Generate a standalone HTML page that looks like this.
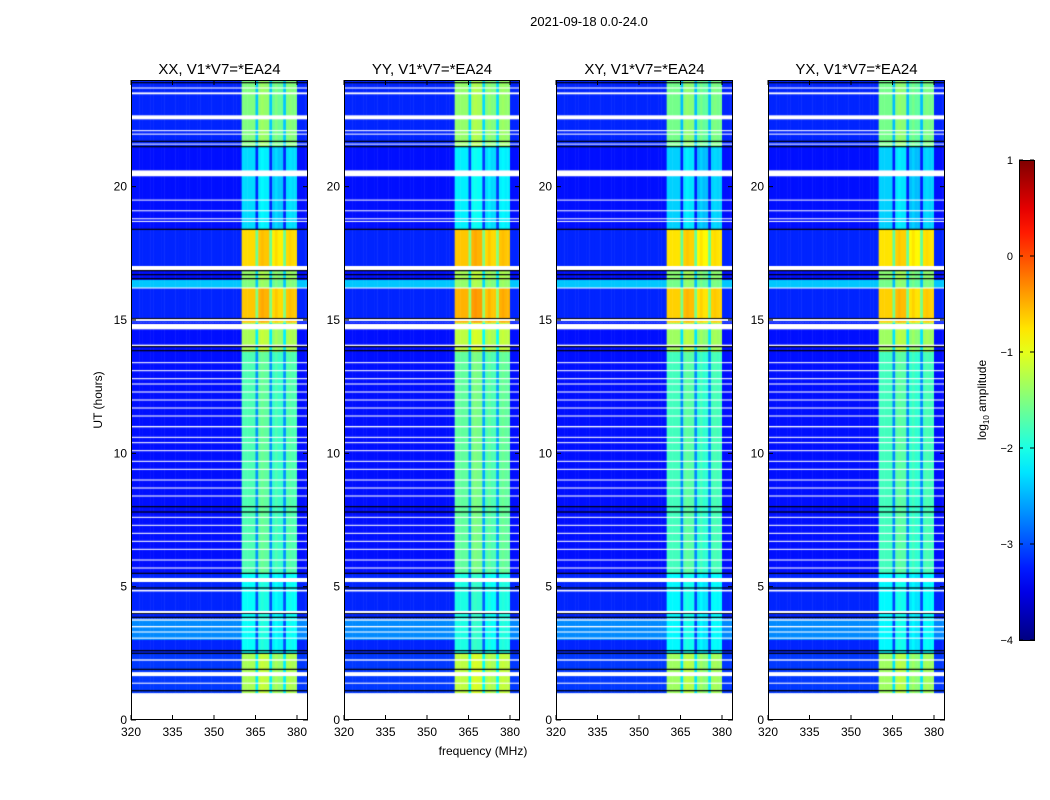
<!DOCTYPE html>
<html><head><meta charset="utf-8">
<style>
body{margin:0;background:#fff;width:1050px;height:800px;overflow:hidden;position:relative;font-family:"Liberation Sans",sans-serif}
canvas{position:absolute}
svg{position:absolute;left:0;top:0}
</style></head>
<body>
<canvas id="c0" style="left:131px;top:80px" width="177" height="640"></canvas>
<canvas id="c1" style="left:344px;top:80px" width="176" height="640"></canvas>
<canvas id="c2" style="left:556px;top:80px" width="177" height="640"></canvas>
<canvas id="c3" style="left:768px;top:80px" width="177" height="640"></canvas>
<svg id="ov" width="1050" height="800"></svg>
<script>
// ---- data ----
const panelTitles = ["XX, V1*V7=*EA24","YY, V1*V7=*EA24","XY, V1*V7=*EA24","YX, V1*V7=*EA24"];
const panelBoost = [0, 0.1, -0.05, -0.05];
const xTicks = [320,335,350,365,380];
const yTicks = [0,5,10,15,20];
const cbTicks = [1,0,-1,-2,-3,-4];
// time segments (hours) with band level and background level (log10 amplitude)
const segStart = [1.0,2.5,3.0,3.8,5.5,13.8,14.9,16.2,16.5,17.0,18.4,21.5];
const segEnd   = [2.5,3.0,3.8,5.5,13.8,14.9,16.2,16.5,17.0,18.4,21.5,24.0];
const segBand  = [-1.3,-2.1,-2.1,-2.1,-1.75,-1.3,-0.6,-1.5,-1.4,-0.7,-2.3,-1.5];
const segBg    = [-3.1,-3.2,-2.7,-3.2,-3.3,-3.3,-3.2,-2.4,-3.3,-3.2,-3.3,-3.2];
// per-MHz column offset inside RFI band (null = outside band), 320..383
const colOffset = [
null,null,null,null,null,null,null,null,null,null,null,null,null,null,null,null,
null,null,null,null,null,null,null,null,null,null,null,null,null,null,null,null,
null,null,null,null,null,null,null,null,0,0,0,0,0,-0.9,0.1,0.15,
0.1,0.1,-0.9,-0.1,0,-0.1,-0.1,-0.9,0,0.05,0,0,null,null,null,null];
// flagged (white) rows: centre hour, thickness hour
const whiteH = [0.5,23.7,23.5,22.6,22.1,21.97,21.6,20.5,19.5,19.1,18.8,18.7,16.95,16.2,15.0,14.75,14.05,
13.4,13.1,12.8,12.6,12.3,12.0,11.7,11.4,11.0,10.6,10.4,10.1,9.7,9.4,9.0,8.7,8.4,7.6,7.3,7.0,6.7,6.4,6.0,5.7,
5.25,4.85,4.05,3.75,3.5,3.3,3.07,2.25,1.72,1.38];
const whiteW = [1.0,0.04,0.07,0.15,0.04,0.04,0.03,0.22,0.03,0.03,0.03,0.03,0.15,0.04,0.07,0.2,0.05,
0.04,0.04,0.04,0.04,0.04,0.04,0.04,0.04,0.05,0.04,0.04,0.04,0.04,0.04,0.04,0.04,0.04,0.04,0.04,0.04,0.04,0.04,0.04,0.04,
0.15,0.06,0.08,0.05,0.05,0.04,0.04,0.05,0.15,0.04];
const blackH = [23.9,21.7,21.5,18.4,16.85,16.7,16.55,15.05,14.0,13.85,8.0,7.8,5.5,4.95,4.0,3.85,2.6,2.5,1.9,1.1];

// ---- scales ----
function yOf(h){return 640 - h*640/24;}
function xOf(f){return (f-320)*166/60;}
function jet(v){
  let t=Math.max(0,Math.min(1,(v+4)/5));
  const c=x=>Math.round(255*Math.max(0,Math.min(1,x)));
  return `rgb(${c(1.5-Math.abs(4*t-3))},${c(1.5-Math.abs(4*t-2))},${c(1.5-Math.abs(4*t-1))})`;
}
for(let p=0;p<4;p++){
  const cv=document.getElementById('c'+p), g=cv.getContext('2d');
  g.fillStyle='#fff';g.fillRect(0,0,cv.width,cv.height);
  for(let s=0;s<segStart.length;s++){
    const y0=yOf(segEnd[s]), y1=yOf(segStart[s]);
    for(let i=0;i<colOffset.length;i++){
      const v = colOffset[i]===null ? segBg[s] : segBand[s]+colOffset[i]+panelBoost[p];
      g.fillStyle=jet(v);
      g.fillRect(xOf(320+i),y0,xOf(321+i)-xOf(320+i)+0.5,y1-y0);
    }
  }
  g.fillStyle='#000';
  blackH.forEach(h=>g.fillRect(0,yOf(h)-0.6,cv.width,1.2));
  g.fillStyle='#fff';
  whiteH.forEach((h,i)=>{const a=yOf(h+whiteW[i]/2),b=yOf(h-whiteW[i]/2);g.fillRect(0,a,cv.width,Math.max(1,b-a));});
}
// ---- overlay ----
const NS='http://www.w3.org/2000/svg', ov=document.getElementById('ov');
function el(tag,attrs,txt){const e=document.createElementNS(NS,tag);for(const k in attrs)e.setAttribute(k,attrs[k]);if(txt!==undefined)e.textContent=txt;ov.appendChild(e);return e;}
const lefts=[131,344,556,768], widths=[177,176,177,177];
for(let p=0;p<4;p++){
  const L=lefts[p],W=widths[p];
  const fr=el('rect',{x:L+0.5,y:80.5,width:W-1,height:639,fill:'none',stroke:'#000','stroke-width':1});
  
  
  const t=el('text',{x:L+W/2,y:74,'text-anchor':'middle','font-size':15},panelTitles[p]);
  
  
  xTicks.forEach(f=>{
    const x=L+xOf(f);
    el('line',{x1:x,x2:x,y1:720,y2:715,stroke:'#000'});
    el('line',{x1:x,x2:x,y1:80,y2:85,stroke:'#000'});
    const tl=el('text',{x:x,y:736,'text-anchor':'middle','font-size':12},String(f));
    
    
  });
  yTicks.forEach(h=>{
    const y=80+yOf(h);
    el('line',{x1:L,x2:L+5,y1:y,y2:y,stroke:'#000'});
    el('line',{x1:L+W,x2:L+W-5,y1:y,y2:y,stroke:'#000'});
    const tl=el('text',{x:L-4,y:y+4,'text-anchor':'end','font-size':12},String(h));
    
    
  });
}
const st=el('text',{x:589,y:26,'text-anchor':'middle','font-size':13},'2021-09-18 0.0-24.0');


const yl=el('text',{x:0,y:0,'text-anchor':'middle','font-size':12,transform:'translate(102,400) rotate(-90)'},'UT (hours)');


const xl=el('text',{x:483,y:755,'text-anchor':'middle','font-size':12},'frequency (MHz)');


// colorbar
const defs=el('defs',{});
const lg=document.createElementNS(NS,'linearGradient');lg.setAttribute('id','jg');lg.setAttribute('x1',0);lg.setAttribute('x2',0);lg.setAttribute('y1',1);lg.setAttribute('y2',0);
for(let i=0;i<=20;i++){const s=document.createElementNS(NS,'stop');s.setAttribute('offset',i/20);s.setAttribute('stop-color',jet(-4+5*i/20));lg.appendChild(s);}
defs.appendChild(lg);
const cb=el('rect',{x:1019.5,y:160.5,width:15,height:480,fill:'url(#jg)',stroke:'#000'});


cbTicks.forEach(v=>{
  const y=160+(1-v)*96;
  el('line',{x1:1019,x2:1023,y1:y,y2:y,stroke:'#000'});
  el('line',{x1:1034,x2:1030,y1:y,y2:y,stroke:'#000'});
  const tl=el('text',{x:1013,y:y+4,'text-anchor':'end','font-size':11},(v<0?'\u2212':'')+Math.abs(v));
  
  
});
const cl=el('text',{x:0,y:0,'text-anchor':'middle','font-size':12,transform:'translate(986,400) rotate(-90)'});
cl.innerHTML='log<tspan font-size="8" dy="3">10</tspan><tspan dy="-3"> amplitude</tspan>';


</script>
</body></html>
